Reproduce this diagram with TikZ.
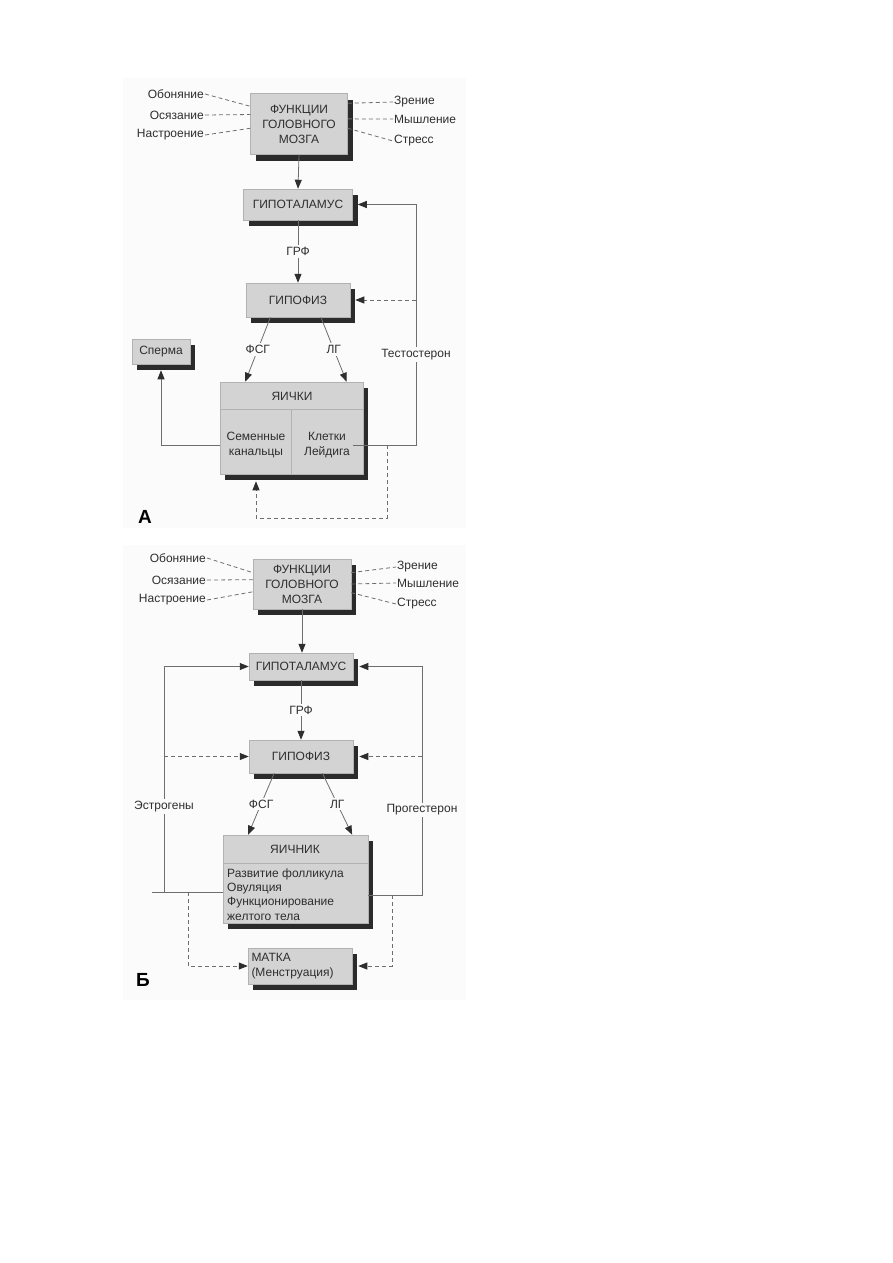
\documentclass[tikz,border=0pt]{standalone}
\usepackage{fontspec}
\setmainfont{Liberation Sans}
\usetikzlibrary{arrows.meta,shadows,calc}

\definecolor{boxfill}{HTML}{D3D3D3}
\definecolor{shadowgray}{HTML}{2B2B2B}
\definecolor{linegray}{HTML}{6E6E6E}
\definecolor{textgray}{HTML}{2E2E2E}
\definecolor{scanbg}{HTML}{FBFBFB}

\begin{document}
\begin{tikzpicture}[x=1pt, y=-1pt,
  font=\fontsize{12}{15}\selectfont, text=textgray]

\tikzset{
  hbox/.style={
    draw=gray!60, line width=0.5pt, fill=boxfill, inner sep=2pt,
    general shadow={fill=shadowgray, shadow xshift=5pt, shadow yshift=-6pt},
  },
  sense/.style={inner sep=1pt},
  hormone/.style={inner sep=2pt, fill=scanbg},
  panel/.style={font=\fontsize{19}{19}\bfseries\selectfont, text=black},
  link/.style={draw=linegray, line width=0.8pt},
  divider/.style={draw=gray!60, line width=0.6pt},
  arrow/.style={link, -{Triangle[length=9pt,width=7pt,color=textgray]}},
  dashlink/.style={link, dash pattern=on 4pt off 3pt},
  dasharrow/.style={arrow, dash pattern=on 4pt off 3pt},
}

\useasboundingbox (0,0) rectangle (893,1263);
\fill[scanbg] (123,78) rectangle (466,528);
\fill[scanbg] (123,545) rectangle (466,1000);

% Part A: male
\node[hbox, minimum width=97pt, minimum height=61pt, align=center] (brainA) at (299,124) {ФУНКЦИИ\\ГОЛОВНОГО\\МОЗГА};

\node[sense, anchor=east] (smellA) at (205,94)  {Обоняние};
\node[sense, anchor=east] (touchA) at (205,115) {Осязание};
\node[sense, anchor=east] (moodA)  at (205,135) {Настроение};
\node[sense, anchor=west] (visionA) at (393,102) {Зрение};
\node[sense, anchor=west] (thinkA)  at (393,119) {Мышление};
\node[sense, anchor=west] (stressA) at (393,141) {Стресс};

\node[hbox, minimum width=109pt, minimum height=31pt] (hypothA) at (298,204.5) {ГИПОТАЛАМУС};
\node[hbox, minimum width=104pt, minimum height=34pt] (pituitA) at (298,300) {ГИПОФИЗ};
\node[hbox, minimum width=58pt, minimum height=25pt] (spermA) at (161,351.5) {Сперма};
\node[hbox, minimum width=143pt, minimum height=92pt] (testesA) at (291.5,428) {};
\node (testesTitle) at (292,396) {ЯИЧКИ};
\node[align=center] (tubules) at (256,445) {Семенные\\канальцы};
\node[align=center] (leydig) at (327,445) {Клетки\\Лейдига};

\coordinate (testoA) at (416,445);
\coordinate (loopA) at (387,518);

\node[panel] (panelA) at (145,517) {А};

% senses -> brain
\draw[dashlink] (smellA.east) -- (brainA.160);
\draw[dashlink] (touchA.east) -- (brainA.169);
\draw[dashlink] (moodA.east) -- (brainA.185);
\draw[dashlink] (brainA.23) -- (visionA.west);
\draw[dashlink] (brainA.6) -- (thinkA.west);
\draw[dashlink] (brainA.355) -- (stressA.west);

% axis
\draw[arrow] (brainA.south) -- (hypothA.north);
\draw[arrow] (hypothA.south) -- node[hormone]{ГРФ} (pituitA.north);
\draw[arrow] (pituitA.212) -- node[hormone]{ФСГ} (testesA.135);
\draw[arrow] (pituitA.323) -- node[hormone]{ЛГ} (testesA.40);

% testes cells
\draw[divider] ($(testesA.north west)!0.3!(testesA.south west)$) -- ($(testesA.north east)!0.3!(testesA.south east)$);
\draw[divider] ($(testesA.north)!0.3!(testesA.south)$) -- (testesA.south);

% feedback
\draw[arrow, shorten >=6pt] (tubules.west -| testesA.west) -| (spermA.south);
\draw[arrow, shorten >=5pt] (leydig.east) -- (testoA) -- node[hormone, pos=0.375]{Тестостерон} (testoA |- hypothA.east) -- (hypothA.east);
\draw[dasharrow, shorten >=5pt] (testoA |- pituitA.east) -- (pituitA.east);
\draw[dasharrow, shorten >=7pt] (loopA |- testoA) -- (loopA) -| (testesA.south -| tubules);

% Part B: female
\node[hbox, minimum width=98pt, minimum height=50pt, align=center] (brainB) at (302,584) {ФУНКЦИИ\\ГОЛОВНОГО\\МОЗГА};

\node[sense, anchor=east] (smellB) at (207,558) {Обоняние};
\node[sense, anchor=east] (touchB) at (207,580) {Осязание};
\node[sense, anchor=east] (moodB)  at (207,600) {Настроение};
\node[sense, anchor=west] (visionB) at (396,567) {Зрение};
\node[sense, anchor=west] (thinkB)  at (396,583) {Мышление};
\node[sense, anchor=west] (stressB) at (396,604) {Стресс};

\node[hbox, minimum width=104pt, minimum height=27pt] (hypothB) at (301,666.5) {ГИПОТАЛАМУС};
\node[hbox, minimum width=104pt, minimum height=33pt] (pituitB) at (301,756.5) {ГИПОФИЗ};
\node[hbox, minimum width=145pt, minimum height=88pt] (ovary) at (295.5,879) {};
\node (ovaryTitle) at (295,849) {ЯИЧНИК};
\node[anchor=west, align=left, inner sep=2pt, font=\fontsize{12}{14.3}\selectfont] (ovaryText) at (225,894.5)
  {Развитие фолликула\\Овуляция\\Функционирование\\желтого тела};
\node[hbox, minimum height=36pt, text width=97pt, inner xsep=3.5pt, inner ysep=3pt, align=left] (uterus) at (300,966) {МАТКА\\(Менструация)};

\coordinate (estroB) at (164,892);
\coordinate (progB) at (422,895);
\coordinate (uterL) at (188,966);
\coordinate (uterR) at (392,966);

\node[panel] (panelB) at (143,980) {Б};

% senses -> brain
\draw[dashlink] (smellB.east) -- (brainB.167);
\draw[dashlink] (touchB.east) -- (brainB.175);
\draw[dashlink] (moodB.east) -- (brainB.189);
\draw[dashlink] (brainB.13) -- (visionB.west);
\draw[dashlink] (brainB.east) -- (thinkB.west);
\draw[dashlink] (brainB.350) -- (stressB.west);

% axis
\draw[arrow] (brainB.south) -- (brainB.south |- hypothB.north);
\draw[arrow] (hypothB.south) -- node[hormone]{ГРФ} (pituitB.north);
\draw[arrow] (pituitB.212) -- node[hormone]{ФСГ} (ovary.137);
\draw[arrow] (pituitB.322) -- node[hormone]{ЛГ} (ovary.38);

\draw[divider] ($(ovary.north west)!0.318!(ovary.south west)$) -- ($(ovary.north east)!0.318!(ovary.south east)$);

% feedback
\draw[link] (ovary.west |- estroB) -- ([xshift=-12pt]estroB);
\draw[arrow] (estroB) -- node[hormone, pos=0.38]{Эстрогены} (estroB |- hypothB.west) -- (hypothB.west);
\draw[dasharrow] (estroB |- pituitB.west) -- (pituitB.west);
\draw[arrow, shorten >=6pt] (ovary.east |- progB) -- (progB) -- node[hormone, pos=0.372]{Прогестерон} (progB |- hypothB.east) -- (hypothB.east);
\draw[dasharrow, shorten >=6pt] (progB |- pituitB.east) -- (pituitB.east);
\draw[dasharrow] (uterL |- estroB) -- (uterL) -- (uterus.west);
\draw[dasharrow, shorten >=6pt] (uterR |- progB) -- (uterR) -- (uterus.east);

\end{tikzpicture}
\end{document}
